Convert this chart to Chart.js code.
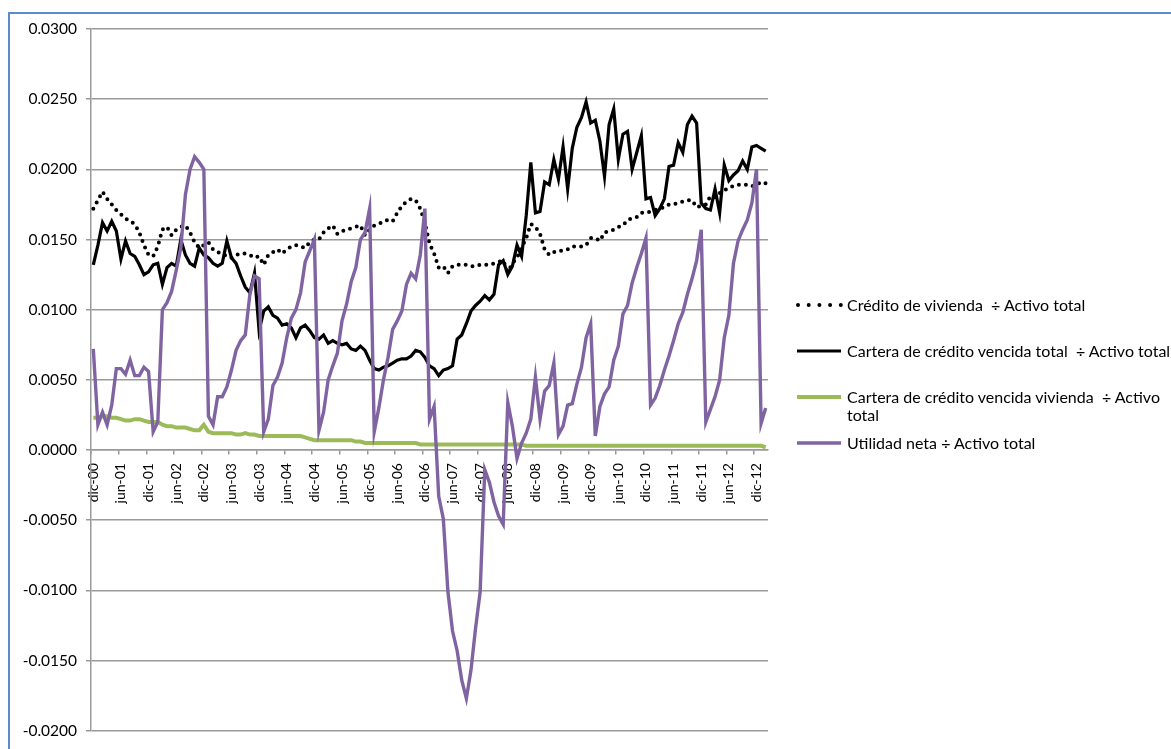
<!DOCTYPE html>
<html>
<head>
<meta charset="utf-8">
<script src="https://cdn.jsdelivr.net/npm/chart.js@4.4.0/dist/chart.umd.min.js"></script>
<style>
  html, body { margin:0; padding:0; background:#fff; width:1171px; height:749px; overflow:hidden; }
  #frame { position:absolute; left:8px; top:12px; width:1200px; height:800px;
           border-left:2px solid #5b8cc9; border-top:2px solid #5b8cc9; }
  #wrap { position:absolute; left:0; top:0; width:1171px; height:749px; }
  .leg { position:absolute; font-family:Lato, "Open Sans", sans-serif; font-size:16px; line-height:18px; color:#000; white-space:pre; }
  .sw { position:absolute; left:796px; }
</style>
</head>
<body>
<div id="frame"></div>
<div id="wrap"><canvas id="c"></canvas></div>

<svg class="sw" style="top:301px" width="48" height="8"><line x1="2" y1="4" x2="45" y2="4" stroke="#000" stroke-width="4" stroke-linecap="round" stroke-dasharray="0 10.7"/></svg>
<div class="leg" style="left:847px; top:296px">Crédito de vivienda  ÷ Activo total</div>

<svg class="sw" style="top:347px" width="48" height="8"><line x1="1" y1="4" x2="45" y2="4" stroke="#000" stroke-width="3.2"/></svg>
<div class="leg" style="left:847px; top:342px">Cartera de crédito vencida total  ÷ Activo total</div>

<svg class="sw" style="top:393px" width="48" height="8"><line x1="1" y1="4" x2="45" y2="4" stroke="#9bbb59" stroke-width="4"/></svg>
<div class="leg" style="left:847px; top:388px">Cartera de crédito vencida vivienda  ÷ Activo
total</div>

<svg class="sw" style="top:439px" width="48" height="8"><line x1="1" y1="4" x2="45" y2="4" stroke="#8064a2" stroke-width="3.4"/></svg>
<div class="leg" style="left:847px; top:434px">Utilidad neta ÷ Activo total</div>

<script>
// ---- categories: monthly, dic-00 .. feb-13 ----
const monthNames = ['ene','feb','mar','abr','may','jun','jul','ago','sep','oct','nov','dic'];
const categories = [];
for (let k = 0; k < 147; k++) {
  const m = (11 + k) % 12;
  const y = Math.floor((11 + k) / 12);
  categories.push(monthNames[m] + '-' + String(y).padStart(2, '0'));
}

// Crédito de vivienda ÷ Activo total
const creditoVivienda = [
  0.0172,0.0178,0.0184,0.0179,0.0175,0.0171,0.0168,0.0165,0.0163,0.0161,0.0155,0.0146,
  0.0139,0.0138,0.0145,0.0157,0.0159,0.0153,0.0157,0.0159,0.0160,0.0155,0.0148,0.0144,
  0.0146,0.0148,0.0143,0.0141,0.0140,0.0138,0.0137,0.0139,0.0140,0.0140,0.0139,0.0137,
  0.0138,0.0132,0.0139,0.0141,0.0143,0.0140,0.0143,0.0145,0.0146,0.0145,0.0144,0.0148,
  0.0150,0.0150,0.0155,0.0158,0.0160,0.0154,0.0156,0.0157,0.0158,0.0159,0.0160,0.0153,
  0.0157,0.0160,0.0161,0.0163,0.0164,0.0163,0.0169,0.0174,0.0177,0.0179,0.0178,0.0172,
  0.0162,0.0147,0.0140,0.0130,0.0131,0.0126,0.0131,0.0132,0.0132,0.0132,0.0131,0.0131,
  0.0132,0.0132,0.0132,0.0133,0.0134,0.0135,0.0127,0.0133,0.0137,0.0144,0.0151,0.0161,
  0.0159,0.0154,0.0143,0.0139,0.0141,0.0142,0.0142,0.0143,0.0145,0.0145,0.0145,0.0146,
  0.0151,0.0151,0.0149,0.0155,0.0156,0.0157,0.0159,0.0160,0.0164,0.0165,0.0166,0.0169,
  0.0169,0.0170,0.0171,0.0172,0.0173,0.0175,0.0175,0.0176,0.0177,0.0178,0.0178,0.0173,
  0.0174,0.0175,0.0181,0.0180,0.0183,0.0185,0.0187,0.0188,0.0189,0.0189,0.0189,0.0188,
  0.0189,0.0191,0.0190
];

// Cartera de crédito vencida total ÷ Activo total
const carteraVencidaTotal = [
  0.0132,0.0146,0.0162,0.0156,0.0163,0.0156,0.0136,0.0149,0.0140,0.0138,0.0132,0.0125,
  0.0127,0.0132,0.0133,0.0118,0.0130,0.0133,0.0131,0.0150,0.0139,0.0133,0.0131,0.0144,
  0.0139,0.0137,0.0133,0.0131,0.0133,0.0149,0.0137,0.0133,0.0124,0.0116,0.0112,0.0126,
  0.0085,0.0099,0.0102,0.0096,0.0094,0.0089,0.0090,0.0087,0.0080,0.0087,0.0089,0.0085,
  0.0080,0.0079,0.0082,0.0076,0.0078,0.0076,0.0075,0.0076,0.0072,0.0071,0.0074,0.0071,
  0.0064,0.0058,0.0057,0.0059,0.0060,0.0062,0.0064,0.0065,0.0065,0.0067,0.0071,0.0070,
  0.0066,0.0060,0.0058,0.0053,0.0057,0.0058,0.0060,0.0079,0.0082,0.0090,0.0099,0.0103,
  0.0106,0.0110,0.0107,0.0111,0.0132,0.0135,0.0125,0.0131,0.0146,0.0138,0.0167,0.0205,
  0.0169,0.0170,0.0191,0.0189,0.0207,0.0193,0.0216,0.0186,0.0215,0.0230,0.0237,0.0248,
  0.0233,0.0235,0.0220,0.0195,0.0232,0.0243,0.0207,0.0225,0.0227,0.0200,0.0212,0.0224,
  0.0179,0.0180,0.0167,0.0172,0.0179,0.0202,0.0203,0.0219,0.0212,0.0232,0.0238,0.0233,
  0.0176,0.0172,0.0171,0.0186,0.0169,0.0203,0.0192,0.0196,0.0199,0.0206,0.0200,0.0216,
  0.0217,0.0215,0.0213
];

// Cartera de crédito vencida vivienda ÷ Activo total
const carteraVencidaVivienda = [
  0.0023,0.0023,0.0024,0.0024,0.0023,0.0023,0.0022,0.0021,0.0021,0.0022,0.0022,0.0021,
  0.0020,0.0020,0.0020,0.0018,0.0017,0.0017,0.0016,0.0016,0.0016,0.0015,0.0014,0.0014,
  0.0018,0.0013,0.0012,0.0012,0.0012,0.0012,0.0012,0.0011,0.0011,0.0012,0.0011,0.0011,
  0.0010,0.0010,0.0010,0.0010,0.0010,0.0010,0.0010,0.0010,0.0010,0.0010,0.0009,0.0008,
  0.0007,0.0007,0.0007,0.0007,0.0007,0.0007,0.0007,0.0007,0.0007,0.0006,0.0006,0.0005,
  0.0005,0.0005,0.0005,0.0005,0.0005,0.0005,0.0005,0.0005,0.0005,0.0005,0.0005,0.0004,
  0.0004,0.0004,0.0004,0.0004,0.0004,0.0004,0.0004,0.0004,0.0004,0.0004,0.0004,0.0004,
  0.0004,0.0004,0.0004,0.0004,0.0004,0.0004,0.0004,0.0004,0.0004,0.0004,0.0003,0.0003,
  0.0003,0.0003,0.0003,0.0003,0.0003,0.0003,0.0003,0.0003,0.0003,0.0003,0.0003,0.0003,
  0.0003,0.0003,0.0003,0.0003,0.0003,0.0003,0.0003,0.0003,0.0003,0.0003,0.0003,0.0003,
  0.0003,0.0003,0.0003,0.0003,0.0003,0.0003,0.0003,0.0003,0.0003,0.0003,0.0003,0.0003,
  0.0003,0.0003,0.0003,0.0003,0.0003,0.0003,0.0003,0.0003,0.0003,0.0003,0.0003,0.0003,
  0.0003,0.0003,0.0002
];

// Utilidad neta ÷ Activo total
const utilidadNeta = [
  0.0072,0.0018,0.0027,0.0018,0.0032,0.0058,0.0058,0.0054,0.0064,0.0053,0.0053,0.0059,
  0.0056,0.0013,0.0020,0.0100,0.0105,0.0113,0.0128,0.0144,0.0182,0.0200,0.0209,0.0205,
  0.0200,0.0024,0.0018,0.0038,0.0038,0.0045,0.0057,0.0071,0.0078,0.0082,0.0111,0.0124,
  0.0122,0.0013,0.0022,0.0046,0.0052,0.0062,0.0080,0.0094,0.0100,0.0112,0.0134,0.0142,
  0.0150,0.0014,0.0027,0.0050,0.0060,0.0069,0.0092,0.0104,0.0120,0.0130,0.0150,0.0155,
  0.0172,0.0013,0.0030,0.0050,0.0066,0.0086,0.0092,0.0099,0.0118,0.0126,0.0122,0.0139,
  0.0172,0.0022,0.0031,-0.0033,-0.0049,-0.0101,-0.0129,-0.0143,-0.0164,-0.0177,-0.0157,-0.0127,
  -0.0101,-0.0014,-0.0023,-0.0037,-0.0047,-0.0053,0.0034,0.0017,-0.0006,0.0005,0.0012,0.0022,
  0.0052,0.0022,0.0042,0.0046,0.0062,0.0011,0.0017,0.0032,0.0033,0.0047,0.0059,0.0080,
  0.0090,0.0010,0.0031,0.0040,0.0045,0.0064,0.0074,0.0097,0.0103,0.0119,0.0130,0.0140,
  0.0151,0.0032,0.0037,0.0046,0.0057,0.0067,0.0078,0.0090,0.0098,0.0111,0.0122,0.0135,
  0.0157,0.0020,0.0029,0.0038,0.0050,0.0080,0.0096,0.0133,0.0149,0.0157,0.0164,0.0176,
  0.0200,0.0019,0.0030
];

// y-axis tick settings
const yMin = -0.02, yMax = 0.03, yStep = 0.005;
const labelEvery = 6;

const gridColor = '#9a9a9a';

new Chart(document.getElementById('c'), {
  type: 'line',
  data: {
    labels: categories,
    datasets: [
      { label: 'Crédito de vivienda  ÷ Activo total', data: creditoVivienda,
        borderColor: '#000', borderWidth: 4, borderDash: [0, 7], borderCapStyle: 'round',
        pointRadius: 0, tension: 0, order: 4 },
      { label: 'Cartera de crédito vencida total  ÷ Activo total', data: carteraVencidaTotal,
        borderColor: '#000', borderWidth: 3.2, pointRadius: 0, tension: 0, order: 3 },
      { label: 'Cartera de crédito vencida vivienda  ÷ Activo total', data: carteraVencidaVivienda,
        borderColor: '#9bbb59', borderWidth: 4, pointRadius: 0, tension: 0, order: 2 },
      { label: 'Utilidad neta ÷ Activo total', data: utilidadNeta,
        borderColor: '#8064a2', borderWidth: 3.4, pointRadius: 0, tension: 0, order: 1 }
    ]
  },
  options: {
    responsive: true,
    maintainAspectRatio: false,
    animation: false,
    layout: { padding: { left: 0, right: 403, top: 29, bottom: 12 } },
    plugins: { legend: { display: false }, tooltip: { enabled: false } },
    scales: {
      x: {
        type: 'category',
        offset: true,
        position: { y: 0 },
        grid: {
          display: true, drawOnChartArea: false, drawTicks: true, tickLength: 4, offset: true,
          color: (c) => (c.index % labelEvery === 0 ? gridColor : 'rgba(0,0,0,0)'),
          lineWidth: 1.5
        },
        border: { display: true, color: gridColor, width: 1.5 },
        ticks: {
          autoSkip: false, maxRotation: 90, minRotation: 90, padding: 9,
          color: '#000', font: { family: 'Lato', size: 14 },
          callback: (v, i) => (i % labelEvery === 0 ? categories[i] : '')
        }
      },
      y: {
        min: yMin, max: yMax,
        grid: { color: gridColor, lineWidth: 1.5, tickLength: 5 },
        border: { display: true, color: gridColor, width: 1.5 },
        ticks: {
          stepSize: yStep, padding: 9, color: '#000', font: { family: 'Lato', size: 15.5 },
          callback: (v) => Number(v).toFixed(4)
        },
        afterFit: (s) => { s.width = 91; }
      }
    }
  }
});
</script>
</body>
</html>
